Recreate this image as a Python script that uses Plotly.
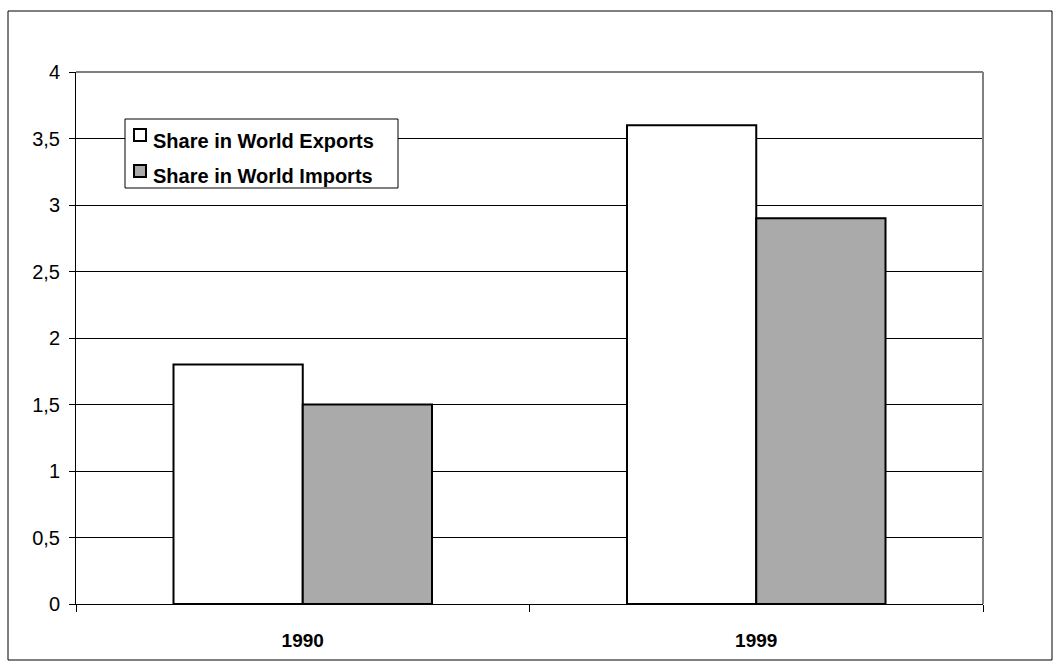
import plotly.graph_objects as go

years = ["1990", "1999"]
exports_share = [1.8, 3.6]
imports_share = [1.5, 2.9]
y_ticks = [0, 0.5, 1, 1.5, 2, 2.5, 3, 3.5, 4]
series_names = ["Share in World Exports", "Share in World Imports"]
series_colors = ["#ffffff", "#aaaaaa"]

FONT = "Arial, Liberation Sans, sans-serif"

fig = go.Figure()
for name, vals, col in zip(series_names, [exports_share, imports_share], series_colors):
    fig.add_trace(go.Bar(
        x=years, y=vals, name=name,
        marker=dict(color=col, line=dict(color="#000000", width=2)),
        showlegend=False,
    ))

L, R, T, B = 76, 79, 72, 68
W, H = 1062, 672
pw, ph = W - L - R, H - T - B


def px(x):
    return (x - L) / pw


def py(y):
    return (H - B - y) / ph


shapes = [
    # plot area top and right edges
    dict(type="line", xref="paper", yref="paper", x0=0, x1=1, y0=1, y1=1,
         line=dict(color="#808080", width=2), layer="above"),
    dict(type="line", xref="paper", yref="paper", x0=1, x1=1, y0=0, y1=1,
         line=dict(color="#808080", width=2), layer="above"),
    # chart frame
    dict(type="rect", xref="paper", yref="paper",
         x0=px(8), x1=px(1052), y0=py(660), y1=py(11),
         line=dict(color="#000000", width=1), layer="below"),
    # legend box
    dict(type="rect", xref="paper", yref="paper",
         x0=px(125), x1=px(398), y0=py(188), y1=py(119),
         line=dict(color="#000000", width=1), fillcolor="#ffffff", layer="above"),
]
annotations = []
swatch_top = [129, 165]
text_mid = [141, 176]
for i, (name, col) in enumerate(zip(series_names, series_colors)):
    shapes.append(dict(
        type="rect", xref="paper", yref="paper",
        x0=px(134), x1=px(146), y0=py(swatch_top[i] + 12), y1=py(swatch_top[i]),
        line=dict(color="#000000", width=2), fillcolor=col, layer="above",
    ))
    annotations.append(dict(
        xref="paper", yref="paper", x=px(151), y=py(text_mid[i]),
        xanchor="left", yanchor="middle", showarrow=False, text=name,
        font=dict(family=FONT, size=20, color="#000000", weight="bold"),
    ))

fig.update_layout(
    width=W, height=H,
    margin=dict(l=L, r=R, t=T, b=B),
    paper_bgcolor="#ffffff", plot_bgcolor="#ffffff",
    separators=", ",
    barmode="group", bargap=0.43, bargroupgap=0,
    font=dict(family=FONT, color="#000000"),
    showlegend=False,
    xaxis=dict(
        type="category", tickson="boundaries",
        ticks="outside", ticklen=7, tickcolor="#000000", tickwidth=1,
        showline=True, linecolor="#000000", linewidth=1,
        showgrid=False, zeroline=False,
        tickfont=dict(family=FONT, size=19, color="#000000", weight="bold"),
        ticklabelstandoff=19,
    ),
    yaxis=dict(
        range=[0, 4], tickvals=y_ticks,
        ticks="outside", ticklen=6, tickcolor="#000000", tickwidth=1,
        showline=True, linecolor="#000000", linewidth=1,
        showgrid=True, gridcolor="#000000", gridwidth=1,
        zeroline=False,
        tickfont=dict(family=FONT, size=20, color="#000000"),
        ticklabelstandoff=5,
    ),
    shapes=shapes,
    annotations=annotations,
)

fig.write_html("out.html")
